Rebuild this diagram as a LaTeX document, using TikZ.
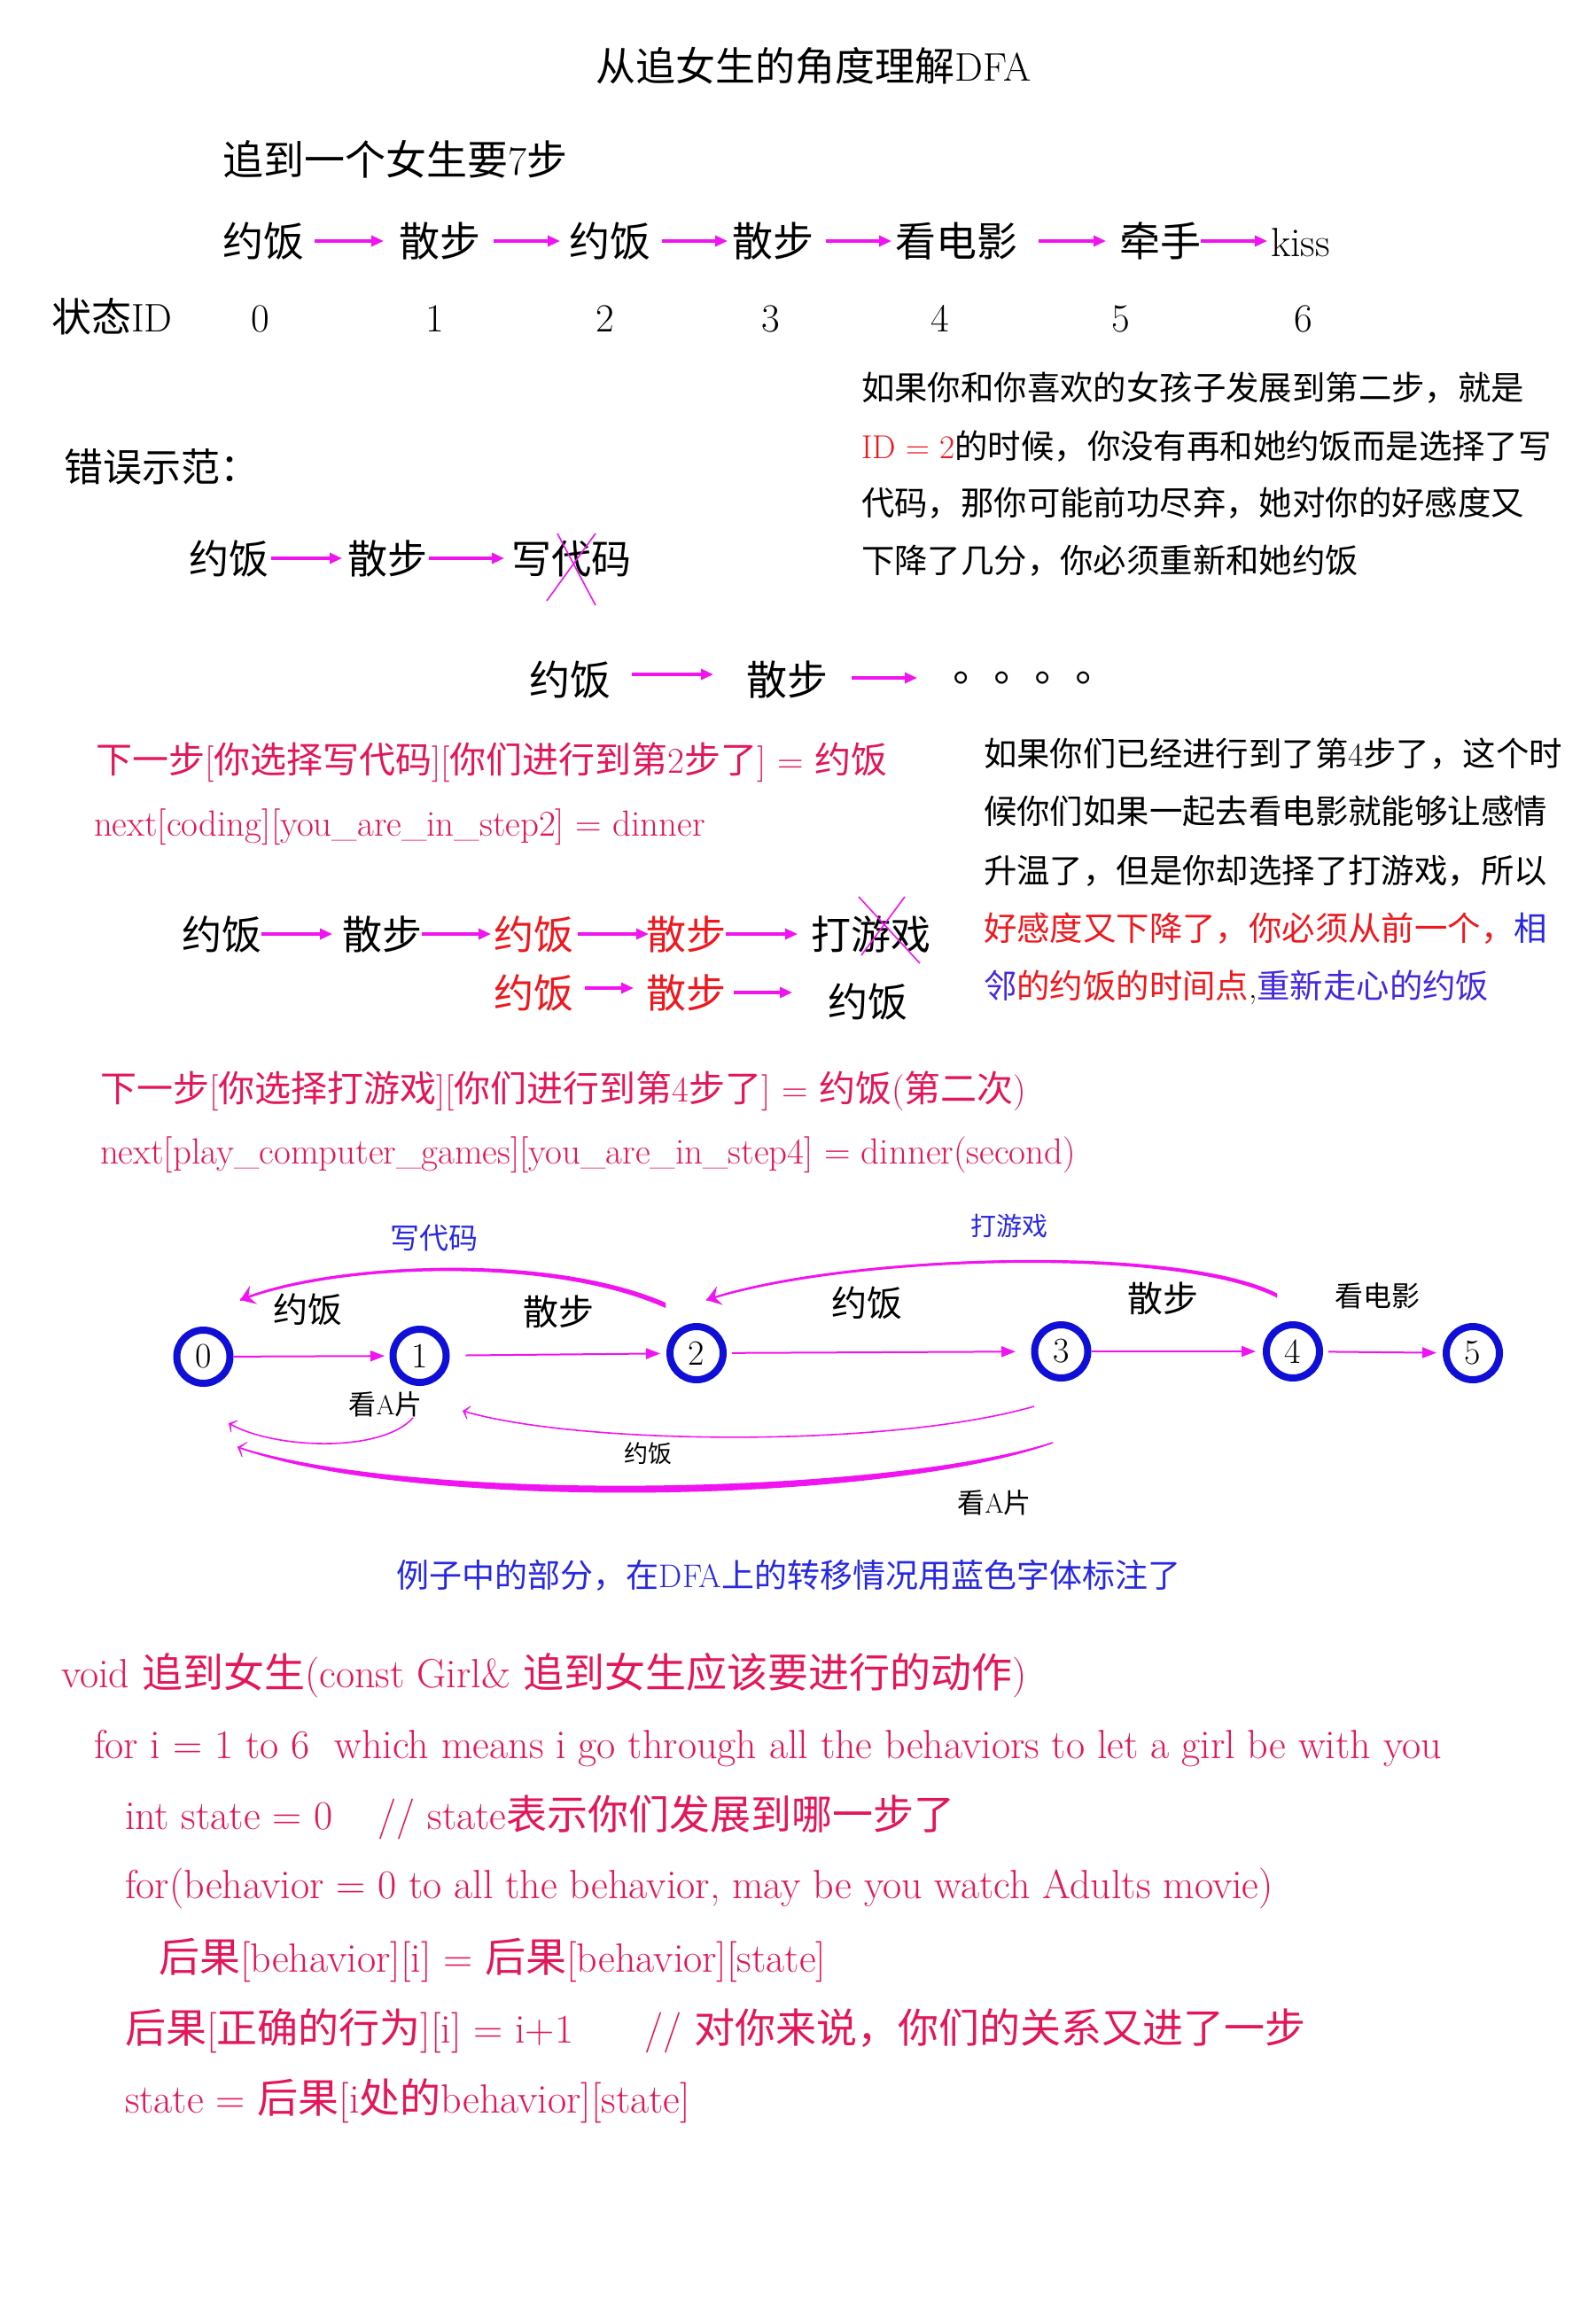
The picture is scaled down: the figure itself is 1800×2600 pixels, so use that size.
\documentclass[tikz,border=0pt]{standalone}
\usepackage{fontspec}
\newfontfamily\cjk{Noto Sans CJK SC}
\newfontfamily\cjktc{Noto Sans CJK TC}
\usetikzlibrary{arrows.meta}
\newcommand\zh[1]{{\cjk #1}}
\newcommand\fs[1]{\fontsize{#1pt}{#1pt}\selectfont}
\newcommand\T[1]{\rule[-0.12em]{0pt}{1em}\smash{#1}}
\definecolor{mag}{RGB}{240,20,240}
\definecolor{crim}{RGB}{226,22,88}
\definecolor{myred}{RGB}{238,24,30}
\definecolor{myblue}{RGB}{40,40,225}
\definecolor{cblue}{RGB}{15,15,215}
\definecolor{vblue}{RGB}{70,40,220}
\begin{document}
\begin{tikzpicture}[x=0.5pt,y=-0.5pt,
  txt/.style={inner sep=0pt,outer sep=0pt,anchor=west},
  rarr/.style={draw=mag,line width=1.6pt,-{Triangle[length=7pt,width=6pt]}},
  darr/.style={draw=mag,line width=1pt,-{Triangle[length=8pt,width=6pt]}},
  xline/.style={draw=mag,line width=0.8pt},
  st/.style={circle,draw=cblue,line width=4pt,minimum size=30pt,inner sep=0pt,font=\fs{20}},
  thinc/.style={draw=mag,line width=0.8pt,-{Stealth[length=5pt,width=11pt,inset=3.5pt]}},
  bigtip/.style={draw=mag,line width=1pt,-{Stealth[length=8pt,width=11pt,inset=3pt]}},
  code/.style={txt,font=\fs{23},text=crim}
]
\fill[white] (0,0) rectangle (1800,2600);
\useasboundingbox (0,0) rectangle (1800,2600);

% title
\node[txt,anchor=center,font=\fs{22.5}] (title) at (918,74) {\T{\zh{从追女生的角度理解}DFA}};
\node[txt,font=\fs{23}] (steps) at (251,180) {\T{\zh{追到一个女生要}7\zh{步}}};

% row 1
\node[txt,font=\fs{23}] (a1) at (251,272) {\T{\zh{约饭}}};
\node[txt,font=\fs{23}] (a2) at (450,272) {\T{\zh{散步}}};
\node[txt,font=\fs{23}] (a3) at (642,272) {\T{\zh{约饭}}};
\node[txt,font=\fs{23}] (a4) at (826,272) {\T{\zh{散步}}};
\node[txt,font=\fs{23}] (a5) at (1010,272) {\T{\zh{看电影}}};
\node[txt,font=\fs{23}] (a6) at (1263,272) {\T{\zh{牵手}}};
\node[txt,font=\fs{23}] (a7) at (1434,272) {\T{kiss}};
\draw[rarr] ([xshift=6pt]a1.east) -- ([xshift=-8.5pt]a2.west);
\draw[rarr] ([xshift=7.5pt]a2.east) -- ([xshift=-5pt]a3.west);
\draw[rarr] ([xshift=6.5pt]a3.east) -- ([xshift=-2.5pt]a4.west);
\draw[rarr] ([xshift=7pt]a4.east) -- ([xshift=-2pt]a5.west);
\draw[rarr] ([xshift=12pt]a5.east) -- ([xshift=-7.5pt]a6.west);
\draw[rarr] (a6.east) -- ([xshift=-2pt]a7.west);

% state IDs
\node[txt,font=\fs{22.5}] (sid) at (58,357) {\T{\zh{状态}ID}};
\node[txt,anchor=center,font=\fs{22.5}] (s0) at (294,357) {\T{0}};
\node[txt,anchor=center,font=\fs{22.5}] (s1) at (491,357) {\T{1}};
\node[txt,anchor=center,font=\fs{22.5}] (s2) at (683,357) {\T{2}};
\node[txt,anchor=center,font=\fs{22.5}] (s3) at (870,357) {\T{3}};
\node[txt,anchor=center,font=\fs{22.5}] (s4) at (1061,357) {\T{4}};
\node[txt,anchor=center,font=\fs{22.5}] (s5) at (1265,357) {\T{5}};
\node[txt,anchor=center,font=\fs{22.5}] (s6) at (1471,357) {\T{6}};

% paragraph 1
\node[txt,font=\fs{18.7}] (p1) at (972,437) {\T{\zh{如果你和你喜欢的女孩子发展到第二步，就是}}};
\node[txt,font=\fs{18.7}] (p2) at (972,503) {\T{\textcolor{myred}{ID = 2}\zh{的时候，你没有再和她约饭而是选择了写}}};
\node[txt,font=\fs{18.7}] (p3) at (972,567) {\T{\zh{代码，那你可能前功尽弃，她对你的好感度又}}};
\node[txt,font=\fs{18.7}] (p4) at (972,632) {\T{\zh{下降了几分，你必须重新和她约饭}}};

% wrong example
\node[txt,font=\fs{22}] (wrong) at (72,527) {\T{\zh{错误示范：}}};
\node[txt,font=\fs{22.5}] (b1) at (213,630) {\T{\zh{约饭}}};
\node[txt,font=\fs{22.5}] (b2) at (392,630) {\T{\zh{散步}}};
\node[txt,font=\fs{22.5}] (b3) at (577,630) {\T{\zh{写代码}}};
\draw[rarr] ([xshift=1.5pt]b1.east) -- ([xshift=-3pt]b2.west);
\draw[rarr] ([xshift=1pt]b2.east) -- ([xshift=-4pt]b3.west);
\draw[xline] (629,602) -- (672,683);
\draw[xline] (672,602) -- (617,678);

% row 3
\node[txt,font=\fs{23}] (c1) at (597,767) {\T{\zh{约饭}}};
\node[txt,font=\fs{23}] (c2) at (842,767) {\T{\zh{散步}}};
\node[txt,font=\fs{23}] (c3) at (1061,765) {\T{{\cjktc 。。。。}}};
\draw[rarr] ([xshift=12pt,yshift=3pt]c1.east) -- ([xshift=-18.5pt,yshift=3pt]c2.west);
\draw[rarr] ([xshift=13.5pt,yshift=1pt]c2.east) -- ([xshift=-13pt]c3.west);

% next line 1
\node[txt,font=\fs{20.5},text=crim] (d1) at (108,857) {\T{\zh{下一步}[\zh{你选择写代码}][\zh{你们进行到第}2\zh{步了}] = \zh{约饭}}};
\node[txt,font=\fs{20.5},text=crim] (d2) at (106,928) {\T{next[coding][you\_are\_in\_step2] = dinner}};

% row 4
\node[txt,font=\fs{22.5}] (e1) at (205,1054) {\T{\zh{约饭}}};
\node[txt,font=\fs{22.5}] (e2) at (386,1054) {\T{\zh{散步}}};
\node[txt,font=\fs{22.5},text=myred] (e3) at (557,1054) {\T{\zh{约饭}}};
\node[txt,font=\fs{22.5},text=myred] (e4) at (729,1054) {\T{\zh{散步}}};
\node[txt,font=\fs{22.5}] (e5) at (915,1054) {\T{\zh{打游戏}}};
\draw[rarr] (e1.east) -- ([xshift=-5.5pt]e2.west);
\draw[rarr] (e2.east) -- ([xshift=-1.5pt]e3.west);
\draw[rarr] ([xshift=2.5pt]e3.east) -- ([xshift=1.5pt]e4.west);
\draw[rarr] (e4.east) -- ([xshift=-7.5pt]e5.west);
\draw[xline] (969,1012) -- (1038,1087);
\draw[xline] (1021,1012) -- (972,1078);

% row 5
\node[txt,font=\fs{22.5},text=myred] (f1) at (557,1120) {\T{\zh{约饭}}};
\node[txt,font=\fs{22.5},text=myred] (f2) at (729,1120) {\T{\zh{散步}}};
\node[txt,font=\fs{22.5}] (f3) at (934,1130) {\T{\zh{约饭}}};
\draw[rarr] ([xshift=6.5pt,yshift=2.5pt]f1.east) -- ([xshift=-7pt,yshift=2.5pt]f2.west);
\draw[rarr] ([xshift=4.5pt]f2.east) -- ++(66,0);

% paragraph 2
\node[txt,font=\fs{18.7}] (q1) at (1110,850) {\T{\zh{如果你们已经进行到了第}4\zh{步了，这个时}}};
\node[txt,font=\fs{18.7}] (q2) at (1110,915) {\T{\zh{候你们如果一起去看电影就能够让感情}}};
\node[txt,font=\fs{18.7}] (q3) at (1110,982) {\T{\zh{升温了，但是你却选择了打游戏，所以}}};
\node[txt,font=\fs{18.7}] (q4) at (1110,1047) {\T{\textcolor{myred}{\zh{好感度又下降了，你必须从前一个，}}\textcolor{myblue}{\zh{相}}}};
\node[txt,font=\fs{18.7}] (q5) at (1110,1112) {\T{\textcolor{vblue}{\zh{邻}}\textcolor{myred}{\zh{的约饭的时间点}},\textcolor{vblue}{\zh{重新走心的约饭}}}};

% next line 2
\node[txt,font=\fs{20.5},text=crim] (g1) at (113,1228) {\T{\zh{下一步}[\zh{你选择打游戏}][\zh{你们进行到第}4\zh{步了}] = \zh{约饭}(\zh{第二次})}};
\node[txt,font=\fs{20.5},text=crim] (g2) at (113,1298) {\T{next[play\_computer\_games][you\_are\_in\_step4] = dinner(second)}};

% DFA
\node[st] (n0) at (229.5,1531) {0};
\node[st] (n1) at (473.5,1530) {1};
\node[st] (n2) at (786,1527) {2};
\node[st] (n3) at (1197.5,1525) {3};
\node[st] (n4) at (1459,1525) {4};
\node[st] (n5) at (1662,1527) {5};
\draw[darr,shorten >=2.75pt] (n0) -- (n1);
\draw[darr,shorten <=9pt,shorten >=3.5pt] (n1) -- (n2);
\draw[darr,shorten <=3pt,shorten >=8.75pt] (n2) -- (n3);
\draw[darr,shorten >=4pt] (n3) -- (n4);
\draw[darr,shorten <=3pt,shorten >=3.5pt] (n4) -- (n5);

\node[txt,anchor=center,font=\fs{19.5}] (l01) at (347,1478) {\T{\zh{约饭}}};
\node[txt,anchor=center,font=\fs{20}] (l12) at (630,1480) {\T{\zh{散步}}};
\node[txt,anchor=center,font=\fs{20}] (l23) at (978,1470) {\T{\zh{约饭}}};
\node[txt,anchor=center,font=\fs{20}] (l34) at (1312,1465) {\T{\zh{散步}}};
\node[txt,anchor=center,font=\fs{16}] (l45) at (1554,1462) {\T{\zh{看电影}}};
\node[txt,anchor=center,font=\fs{16.5},text=myblue] (lw) at (490,1397) {\T{\zh{写代码}}};
\node[txt,anchor=center,font=\fs{14.5},text=myblue] (ly) at (1139,1383) {\T{\zh{打游戏}}};
\node[txt,anchor=center,font=\fs{15.5}] (la1) at (435,1585) {\T{\zh{看}A\zh{片}}};
\node[txt,anchor=center,font=\fs{13.5}] (ld) at (731,1640) {\T{\zh{约饭}}};
\node[txt,anchor=center,font=\fs{15.5}] (la2) at (1122,1696) {\T{\zh{看}A\zh{片}}};

% top back-arrows (tapered)
\coordinate (w2) at (751,1473);
\coordinate (w0) at (271,1467);
\fill[mag] (751,1470) .. controls (620,1412.75) and (380,1423.75) .. (271,1465.75) -- (271,1468.25) .. controls (380,1426.25) and (620,1417.25) .. (751,1476) -- cycle;
\draw[bigtip] (w2) .. controls (620,1415) and (380,1425) .. (w0);
\coordinate (y4) at (1441,1462);
\coordinate (y2) at (797,1467);
\fill[mag] (1441,1459.5) .. controls (1330,1403.25) and (960,1413.75) .. (797,1466) -- (797,1468) .. controls (960,1416.25) and (1330,1406.75) .. (1441,1464.5) -- cycle;
\draw[bigtip] (y4) .. controls (1330,1405) and (960,1415) .. (y2);

% bottom back-arrows
\coordinate (d3) at (1167,1587);
\coordinate (d1) at (522,1592);
\draw[thinc] (d3) .. controls (1000,1635) and (650,1630) .. (d1);
\coordinate (k1) at (466,1600);
\coordinate (k0) at (258,1606);
\draw[thinc] (k1) .. controls (430,1640) and (310,1635) .. (k0);
\coordinate (m3) at (1188,1628);
\coordinate (m0) at (268,1633);
\fill[mag] (1188,1627.25) .. controls (1000,1687) and (470,1697) .. (268,1632.25) -- (268,1633.75) .. controls (470,1707) and (1000,1697) .. (1188,1628.75) -- cycle;
\draw[draw=mag,line width=0.6pt,-{Stealth[length=6pt,width=13pt,inset=4.5pt]}] (m3) .. controls (1000,1692) and (470,1702) .. (m0);

% caption
\node[txt,anchor=center,font=\fs{18.5},text=myblue] (cap) at (890,1777) {\T{\zh{例子中的部分，在}DFA\zh{上的转移情况用蓝色字体标注了}}};

% code
\node[code] (h1) at (69,1887) {\T{void \zh{追到女生}(const Girl\& \zh{追到女生应该要进行的动作})}};
\node[code] (h2) at (106,1967) {\T{for i = 1 to 6\ \ which means i go through all the behaviors to let a girl be with you}};
\node[code] (h3) at (141,2047) {\T{int state = 0\hspace{1.1em}// state\zh{表示你们发展到哪一步了}}};
\node[code] (h4) at (141,2125) {\T{for(behavior = 0 to all the behavior, may be you watch Adults movie)}};
\node[code] (h5) at (179,2208) {\T{\zh{后果}[behavior][i] = \zh{后果}[behavior][state]}};
\node[code] (h6) at (141,2288) {\T{\zh{后果}[\zh{正确的行为}][i] = i+1\hspace{1.75em}// \zh{对你来说，你们的关系又进了一步}}};
\node[code] (h7) at (141,2367) {\T{state = \zh{后果}[i\zh{处的}behavior][state]}};
\end{tikzpicture}
\end{document}
